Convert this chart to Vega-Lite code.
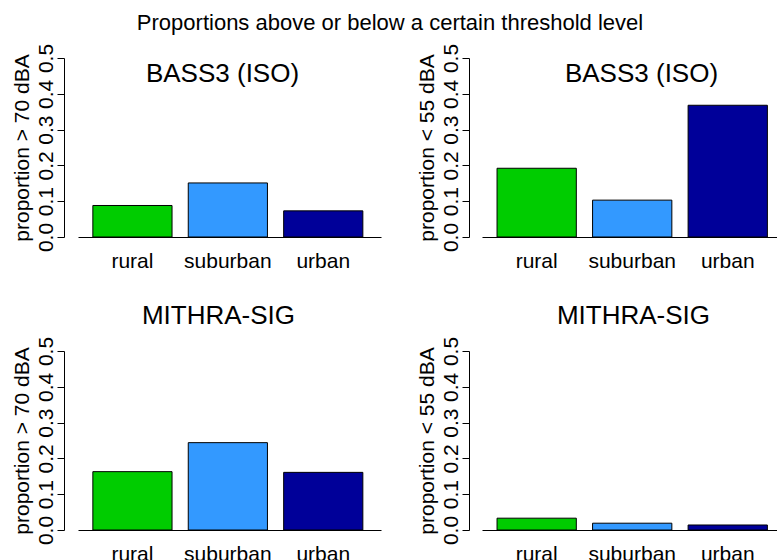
{
  "$schema": "https://vega.github.io/schema/vega-lite/v6.json",
  "padding": {"left": 11, "top": 12, "right": 0, "bottom": 0},
  "config": {
    "font": "Liberation Sans",
    "view": {"stroke": null},
    "title": {"fontWeight": "normal", "color": "black"},
    "axis": {"domainColor": "black", "tickColor": "black", "labelColor": "black", "titleColor": "black", "grid": false}
  },
  "title": {"text": "Proportions above or below a certain threshold level", "fontSize": 22, "anchor": "middle", "frame": "bounds", "offset": 8, "dx": -4},
  "datasets": {
    "d": [
      {"model": "BASS3", "metric": "gt70", "class": "rural", "value": 0.088},
      {"model": "BASS3", "metric": "gt70", "class": "suburban", "value": 0.151},
      {"model": "BASS3", "metric": "gt70", "class": "urban", "value": 0.073},
      {"model": "BASS3", "metric": "lt55", "class": "rural", "value": 0.192},
      {"model": "BASS3", "metric": "lt55", "class": "suburban", "value": 0.103},
      {"model": "BASS3", "metric": "lt55", "class": "urban", "value": 0.368},
      {"model": "MITHRA", "metric": "gt70", "class": "rural", "value": 0.163},
      {"model": "MITHRA", "metric": "gt70", "class": "suburban", "value": 0.244},
      {"model": "MITHRA", "metric": "gt70", "class": "urban", "value": 0.161},
      {"model": "MITHRA", "metric": "lt55", "class": "rural", "value": 0.033},
      {"model": "MITHRA", "metric": "lt55", "class": "suburban", "value": 0.019},
      {"model": "MITHRA", "metric": "lt55", "class": "urban", "value": 0.014}
    ]
  },
  "columns": 2,
  "spacing": {"row": 114, "column": 101},
  "bounds": "flush",
  "align": "each",
  "concat": [
    {
      "data": {"name": "d"},
      "transform": [{"filter": "datum.model == 'BASS3' && datum.metric == 'gt70'"}],
      "width": 303, "height": 179,
      "title": {"text": "BASS3 (ISO)", "fontSize": 26, "baseline": "alphabetic", "offset": -65, "dx": -7},
      "mark": {"type": "bar", "stroke": "black", "strokeWidth": 1},
      "encoding": {
        "x": {"field": "class", "type": "nominal", "sort": ["rural", "suburban", "urban"], "scale": {"paddingInner": 0.17, "paddingOuter": 0.173, "align": 0.45}, "axis": {"title": null, "labelAngle": 0, "ticks": false, "tickSize": 0, "labelPadding": 13, "labelFontSize": 21}},
        "y": {"field": "value", "type": "quantitative", "scale": {"domain": [0, 0.5], "nice": false}, "axis": {"title": "proportion > 70 dBA", "values": [0, 0.1, 0.2, 0.3, 0.4, 0.5], "format": ".1f", "labelAngle": -90, "labelAlign": "center", "labelBaseline": "bottom", "labelPadding": 1, "tickSize": 7, "offset": 14, "labelFontSize": 21, "titleFontSize": 21, "titleFontWeight": "normal", "titlePadding": 3, "labelOverlap": false, "labelFlush": false}},
        "color": {"field": "class", "type": "nominal", "scale": {"domain": ["rural", "suburban", "urban"], "range": ["#00CC00", "#3399FF", "#000099"]}, "legend": null}
      }
    },
    {
      "data": {"name": "d"},
      "transform": [{"filter": "datum.model == 'BASS3' && datum.metric == 'lt55'"}],
      "width": 295, "height": 179,
      "title": {"text": "BASS3 (ISO)", "fontSize": 26, "baseline": "alphabetic", "offset": -65, "dx": 12},
      "mark": {"type": "bar", "stroke": "black", "strokeWidth": 1},
      "encoding": {
        "x": {"field": "class", "type": "nominal", "sort": ["rural", "suburban", "urban"], "scale": {"paddingInner": 0.17, "paddingOuter": 0.129, "align": 0.61}, "axis": {"title": null, "labelAngle": 0, "ticks": false, "tickSize": 0, "labelPadding": 13, "labelFontSize": 21}},
        "y": {"field": "value", "type": "quantitative", "scale": {"domain": [0, 0.5], "nice": false}, "axis": {"title": "proportion < 55 dBA", "values": [0, 0.1, 0.2, 0.3, 0.4, 0.5], "format": ".1f", "labelAngle": -90, "labelAlign": "center", "labelBaseline": "bottom", "labelPadding": 1, "tickSize": 7, "offset": 13, "labelFontSize": 21, "titleFontSize": 21, "titleFontWeight": "normal", "titlePadding": 3, "labelOverlap": false, "labelFlush": false}},
        "color": {"field": "class", "type": "nominal", "scale": {"domain": ["rural", "suburban", "urban"], "range": ["#00CC00", "#3399FF", "#000099"]}, "legend": null}
      }
    },
    {
      "data": {"name": "d"},
      "transform": [{"filter": "datum.model == 'MITHRA' && datum.metric == 'gt70'"}],
      "width": 303, "height": 179,
      "title": {"text": "MITHRA-SIG", "fontSize": 26, "baseline": "alphabetic", "offset": -14, "dx": -11},
      "mark": {"type": "bar", "stroke": "black", "strokeWidth": 1},
      "encoding": {
        "x": {"field": "class", "type": "nominal", "sort": ["rural", "suburban", "urban"], "scale": {"paddingInner": 0.17, "paddingOuter": 0.173, "align": 0.45}, "axis": {"title": null, "labelAngle": 0, "ticks": false, "tickSize": 0, "labelPadding": 13, "labelFontSize": 21}},
        "y": {"field": "value", "type": "quantitative", "scale": {"domain": [0, 0.5], "nice": false}, "axis": {"title": "proportion > 70 dBA", "values": [0, 0.1, 0.2, 0.3, 0.4, 0.5], "format": ".1f", "labelAngle": -90, "labelAlign": "center", "labelBaseline": "bottom", "labelPadding": 1, "tickSize": 7, "offset": 14, "labelFontSize": 21, "titleFontSize": 21, "titleFontWeight": "normal", "titlePadding": 3, "labelOverlap": false, "labelFlush": false}},
        "color": {"field": "class", "type": "nominal", "scale": {"domain": ["rural", "suburban", "urban"], "range": ["#00CC00", "#3399FF", "#000099"]}, "legend": null}
      }
    },
    {
      "data": {"name": "d"},
      "transform": [{"filter": "datum.model == 'MITHRA' && datum.metric == 'lt55'"}],
      "width": 295, "height": 179,
      "title": {"text": "MITHRA-SIG", "fontSize": 26, "baseline": "alphabetic", "offset": -14, "dx": 4},
      "mark": {"type": "bar", "stroke": "black", "strokeWidth": 1},
      "encoding": {
        "x": {"field": "class", "type": "nominal", "sort": ["rural", "suburban", "urban"], "scale": {"paddingInner": 0.17, "paddingOuter": 0.129, "align": 0.61}, "axis": {"title": null, "labelAngle": 0, "ticks": false, "tickSize": 0, "labelPadding": 13, "labelFontSize": 21}},
        "y": {"field": "value", "type": "quantitative", "scale": {"domain": [0, 0.5], "nice": false}, "axis": {"title": "proportion < 55 dBA", "values": [0, 0.1, 0.2, 0.3, 0.4, 0.5], "format": ".1f", "labelAngle": -90, "labelAlign": "center", "labelBaseline": "bottom", "labelPadding": 1, "tickSize": 7, "offset": 13, "labelFontSize": 21, "titleFontSize": 21, "titleFontWeight": "normal", "titlePadding": 3, "labelOverlap": false, "labelFlush": false}},
        "color": {"field": "class", "type": "nominal", "scale": {"domain": ["rural", "suburban", "urban"], "range": ["#00CC00", "#3399FF", "#000099"]}, "legend": null}
      }
    }
  ]
}
